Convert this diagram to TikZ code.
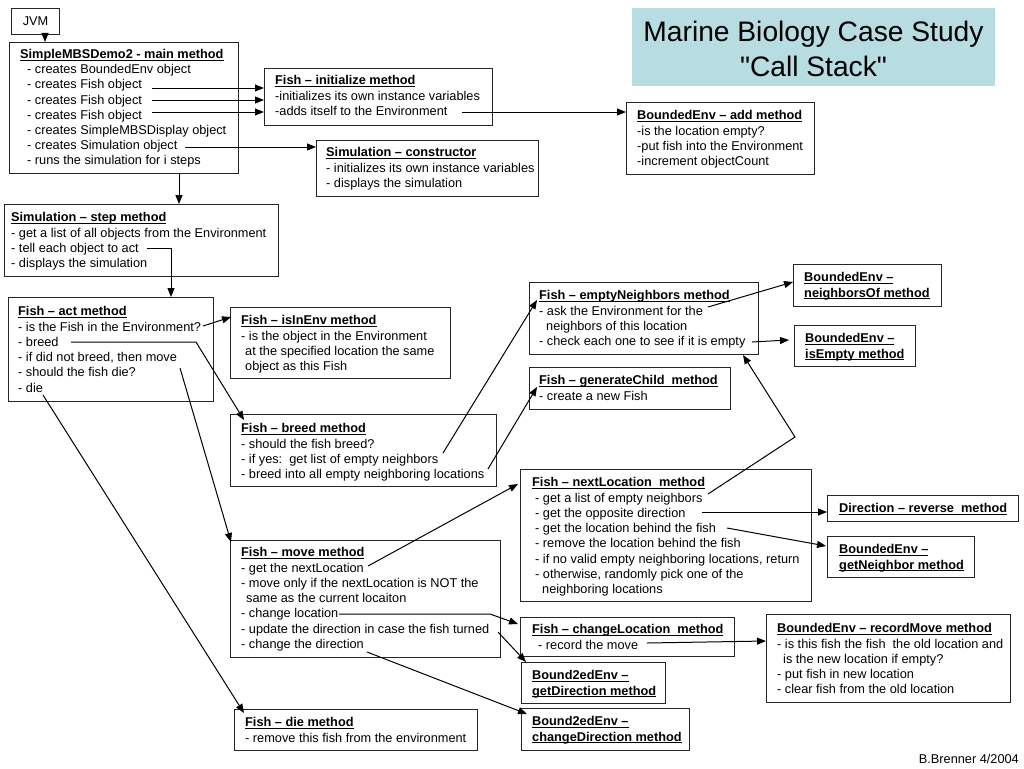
\documentclass[tikz,border=0pt]{standalone}
\usepackage{fontspec}
\setmainfont{Liberation Sans}
\newfontfamily\titlefont{Liberation Sans}[Ligatures=ResetAll]
\usetikzlibrary{arrows.meta}
\newcommand\ttl[1]{\setbox0\hbox{\bfseries #1}\rlap{\rule[-1.9pt]{\wd0}{1pt}}\box0}
\newcommand\ind[1]{\hspace*{#1pt}}
\definecolor{titlebg}{RGB}{183,221,226}
\begin{document}
\begin{tikzpicture}[x=1pt,y=-1pt,
  box/.style={draw=black!85,line width=1.2pt,anchor=north west,inner sep=0pt},
  txt/.style={anchor=north west,inner sep=0pt,align=left,font=\fontsize{12.75}{15.3}\selectfont},
  arr/.style={-{Triangle[length=9pt,width=7pt]},line width=1pt,black}]
\useasboundingbox (0,0) rectangle (1024,768);

% title
\node[anchor=north west,fill=titlebg,minimum width=363,minimum height=78,inner sep=0pt] (title) at (632,8) {};
\node[anchor=north,inner sep=0pt,align=center,font=\titlefont\fontsize{28.2}{35}\selectfont] (titleT) at (813.5,16.5) {\strut Marine Biology Case Study\\"Call Stack"};

% boxes
\node[box,minimum width=48,minimum height=26,font=\fontsize{12.75}{15.3}\selectfont] (jvm) at (11,8) {JVM};
\node[box,minimum width=229,minimum height=131] (main) at (9,42) {};
\node[box,minimum width=228,minimum height=57] (finit) at (264,68) {};
\node[box,minimum width=222,minimum height=56] (simcons) at (316,140) {};
\node[box,minimum width=188,minimum height=72] (badd) at (626,102) {};
\node[box,minimum width=274,minimum height=72] (step) at (4,204) {};
\node[box,minimum width=205,minimum height=104] (act) at (8,297) {};
\node[box,minimum width=220,minimum height=71] (isin) at (230,307) {};
\node[box,minimum width=266,minimum height=72] (breed) at (230,414) {};
\node[box,minimum width=229,minimum height=72] (emptyN) at (529,282) {};
\node[box,minimum width=201,minimum height=42] (gen) at (529,367) {};
\node[box,minimum width=148,minimum height=42] (neighOf) at (793,264) {};
\node[box,minimum width=121,minimum height=41] (isEmpty) at (794,325) {};
\node[box,minimum width=291,minimum height=132] (nextLoc) at (520,469) {};
\node[box,minimum width=191,minimum height=26] (dirRev) at (827,495) {};
\node[box,minimum width=147,minimum height=41] (getNeigh) at (827,536) {};
\node[box,minimum width=270,minimum height=117] (move) at (230,540) {};
\node[box,minimum width=214,minimum height=39] (changeLoc) at (520,617) {};
\node[box,minimum width=144,minimum height=41] (getDir) at (521,662) {};
\node[box,minimum width=168,minimum height=42] (changeDir) at (521,708) {};
\node[box,minimum width=244,minimum height=88] (recMove) at (766,614) {};
\node[box,minimum width=243,minimum height=41] (die) at (234,709) {};

% texts
\node[txt,font=\fontsize{12.75}{15.15}\selectfont] (mainT) at (20,47.8) {\strut\ttl{SimpleMBSDemo2 - main method}\\
\ind7- creates BoundedEnv object\\
\ind7- creates Fish object\\
\ind7- creates Fish object\\
\ind7- creates Fish object\\
\ind7- creates SimpleMBSDisplay object\\
\ind7- creates Simulation object\\
\ind7- runs the simulation for i steps};
\node[txt] (finitT) at (275,73.8) {\strut\ttl{Fish – initialize method}\\
-initializes its own instance variables\\
-adds itself to the Environment};
\node[txt] (simconsT) at (326,145.8) {\strut\ttl{Simulation – constructor}\\
- initializes its own instance variables\\
- displays the simulation};
\node[txt] (baddT) at (637,108.8) {\strut\ttl{BoundedEnv – add method}\\
-is the location empty?\\
-put fish into the Environment\\
-increment objectCount};
\node[txt] (stepT) at (11,210.8) {\strut\ttl{Simulation – step method}\\
- get a list of all objects from the Environment\\
- tell each object to act\\
- displays the simulation};
\node[txt] (actT) at (18,304.8) {\strut\ttl{Fish – act method}\\
- is the Fish in the Environment?\\
- breed\\
- if did not breed, then move\\
- should the fish die?\\
- die};
\node[txt] (isinT) at (241,313.8) {\strut\ttl{Fish – isInEnv method}\\
- is the object in the Environment\\
\ind4at the specified location the same\\
\ind4object as this Fish};
\node[txt] (breedT) at (241,421.8) {\strut\ttl{Fish – breed method}\\
- should the fish breed?\\
- if yes:\ \ get list of empty neighbors\\
- breed into all empty neighboring locations};
\node[txt] (emptyNT) at (539,288.8) {\strut\ttl{Fish – emptyNeighbors method}\\
- ask the Environment for the\\
\ind7neighbors of this location\\
- check each one to see if it is empty};
\node[txt] (genT) at (539,373.8) {\strut\ttl{Fish – generateChild\ \ method}\\
- create a new Fish};
\node[txt] (neighOfT) at (804,270.8) {\strut\ttl{BoundedEnv –}\\\ttl{neighborsOf method}};
\node[txt] (isEmptyT) at (805,331.8) {\strut\ttl{BoundedEnv –}\\\ttl{isEmpty method}};
\node[txt] (nextLocT) at (532,475.8) {\strut\ttl{Fish – nextLocation\ \ method}\\
\ind3- get a list of empty neighbors\\
\ind3- get the opposite direction\\
\ind3- get the location behind the fish\\
\ind3- remove the location behind the fish\\
\ind3- if no valid empty neighboring locations, return\\
\ind3- otherwise, randomly pick one of the\\
\ind{10}neighboring locations};
\node[txt] (dirRevT) at (839,501.8) {\strut\ttl{Direction – reverse\ \ method}};
\node[txt] (getNeighT) at (839,542.8) {\strut\ttl{BoundedEnv –}\\\ttl{getNeighbor method}};
\node[txt] (moveT) at (241,545.8) {\strut\ttl{Fish – move method}\\
- get the nextLocation\\
- move only if the nextLocation is NOT the\\
\ind5same as the current locaiton\\
- change location\\
- update the direction in case the fish turned\\
- change the direction};
\node[txt] (changeLocT) at (532,622.8) {\strut\ttl{Fish – changeLocation\ \ method}\\
\ind6- record the move};
\node[txt] (getDirT) at (532,668.8) {\strut\ttl{Bound2edEnv –}\\\ttl{getDirection method}};
\node[txt] (changeDirT) at (532,714.8) {\strut\ttl{Bound2edEnv –}\\\ttl{changeDirection method}};
\node[txt] (recMoveT) at (777,621.8) {\strut\ttl{BoundedEnv – recordMove method}\\
- is this fish the fish\ \ the old location and\\
\ind6is the new location if empty?\\
- put fish in new location\\
- clear fish from the old location};
\node[txt] (dieT) at (245,715.8) {\strut\ttl{Fish – die method}\\
- remove this fish from the environment};
\node[anchor=base east,inner sep=0pt,font=\fontsize{12.75}{15.3}\selectfont] (foot) at (1019,763.5) {B.Brenner 4/2004};

% connector end points
\coordinate (jv) at (45,0);
\coordinate (cf1) at (152,88);
\coordinate (cf2) at (152,100);
\coordinate (cf3) at (152,112);
\coordinate (cso) at (185,147);
\coordinate (cms) at (179,0);
\coordinate (cad) at (462,112);
\coordinate (ctell) at (147,248);
\coordinate (cdn) at (171,0);
\coordinate (cis) at (203,326);
\coordinate (cisE) at (231,317);
\coordinate (cbr) at (71,342);
\coordinate (cbrK) at (196,342);
\coordinate (cbrE) at (244,420);
\coordinate (cmv) at (180,368);
\coordinate (cmvE) at (231,542);
\coordinate (cdie) at (43,395);
\coordinate (cdieE) at (244,713);
\coordinate (cyes) at (443,453);
\coordinate (cyesE) at (537,300);
\coordinate (cbi) at (488,469);
\coordinate (cbiE) at (537,387);
\coordinate (cask) at (708,307);
\coordinate (caskE) at (793,282);
\coordinate (cchk) at (752,342);
\coordinate (cchkE) at (789,340);
\coordinate (cgl) at (708,494);
\coordinate (cglK) at (795,437);
\coordinate (cglE) at (743,355);
\coordinate (cgn) at (368,566);
\coordinate (cgnE) at (518,484);
\coordinate (cop) at (702,512);
\coordinate (cbh) at (727,528);
\coordinate (cbhE) at (826,546);
\coordinate (ccl) at (339,614);
\coordinate (cclK) at (490,614);
\coordinate (cclE) at (518,624);
\coordinate (cup) at (498,632);
\coordinate (cupE) at (526,662);
\coordinate (ccd) at (367,652);
\coordinate (ccdE) at (527,714);
\coordinate (crm) at (647,643);
\coordinate (crmE) at (766,641);

% connectors
\draw[arr] (jv |- jvm.south) -- (jv |- main.north);
\draw[arr] (cf1) -- (cf1 -| finit.west);
\draw[arr] (cf2) -- (cf2 -| finit.west);
\draw[arr] (cf3) -- (cf3 -| finit.west);
\draw[arr] (cso) -- (cso -| simcons.west);
\draw[arr] (cms |- main.south) -- (cms |- step.north);
\draw[arr] (cad) -- (cad -| badd.west);
\draw[arr] (ctell) -| (cdn |- act.north);
\draw[arr] (cis) -- (cisE);
\draw[arr] (cbr) -- (cbrK) -- (cbrE);
\draw[arr] (cmv) -- (cmvE);
\draw[arr] (cdie) -- (cdieE);
\draw[arr] (cyes) -- (cyesE);
\draw[arr] (cbi) -- (cbiE);
\draw[arr] (cask) -- (caskE);
\draw[arr] (cchk) -- (cchkE);
\draw[arr] (cgl) -- (cglK) -- (cglE);
\draw[arr] (cgn) -- (cgnE);
\draw[arr] (cop) -- (cop -| dirRev.west);
\draw[arr] (cbh) -- (cbhE);
\draw[arr] (ccl) -- (cclK) -- (cclE);
\draw[arr] (cup) -- (cupE);
\draw[arr] (ccd) -- (ccdE);
\draw[arr] (crm) -- (crmE);
\end{tikzpicture}
\end{document}
